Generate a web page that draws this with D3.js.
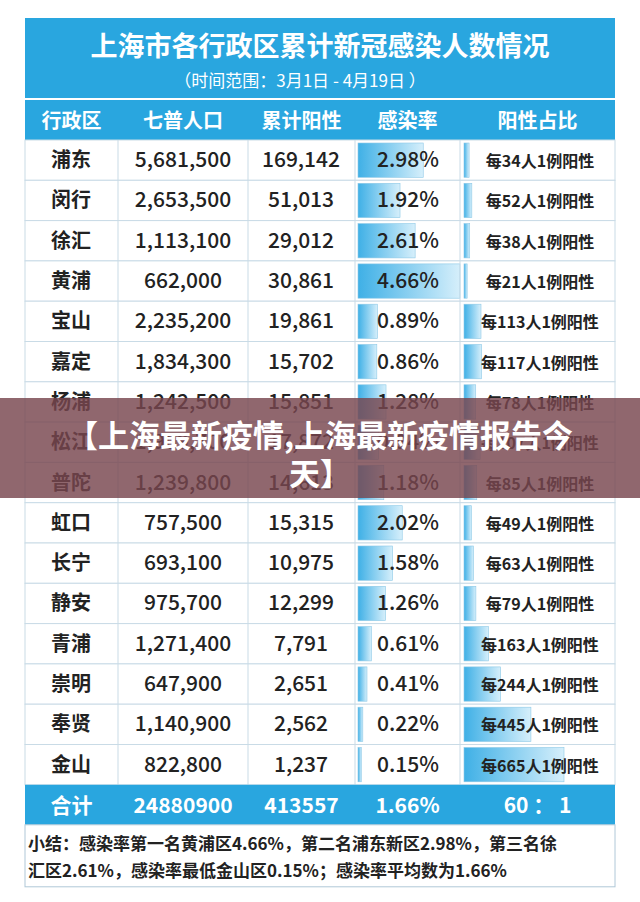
<!DOCTYPE html>
<html><head><meta charset="utf-8">
<script src="https://cdn.jsdelivr.net/npm/d3@7"></script>
<style>body{margin:0;background:#fff;font-family:"Noto Sans CJK SC","Noto Sans",sans-serif}</style>
</head><body>
<svg id="chart" width="640" height="902"></svg>
<script>
const districts = ["浦东","闵行","徐汇","黄浦","宝山","嘉定","杨浦","松江","普陀","虹口","长宁","静安","青浦","崇明","奉贤","金山"];
const population = ["5,681,500","2,653,500","1,113,100","662,000","2,235,200","1,834,300","1,242,500","1,909,700","1,239,800","757,500","693,100","975,700","1,271,400","647,900","1,140,900","822,800"];
const positives = ["169,142","51,013","29,012","30,861","19,861","15,702","15,851","17,872","14,613","15,315","10,975","12,299","7,791","2,651","2,562","1,237"];
const rates = [2.98,1.92,2.61,4.66,0.89,0.86,1.28,0.94,1.18,2.02,1.58,1.26,0.61,0.41,0.22,0.15];
const perCase = [34,52,38,21,113,117,78,107,85,49,63,79,163,244,445,665];
const headers = ["行政区","七普人口","累计阳性","感染率","阳性占比"];
const totals = ["合计","24880900","413557","1.66%","60 ： 1"];

const svg = d3.select("#chart");
const blue = "#29a6df";
const colEdges = [25,118,248,355,460,615];
const rowTop = 140, rowH = 40.3;
const y = d3.scaleBand().domain(districts).range([rowTop, rowTop + rowH*districts.length]);
const rateX = d3.scaleLinear().domain([0,4.66]).range([0,102]);
const ratioX = d3.scaleLinear().domain([0,665]).range([0,100]);

const defs = svg.append("defs");
const g1 = defs.append("linearGradient").attr("id","gr").attr("x1",0).attr("x2",1);
g1.append("stop").attr("offset","0%").attr("stop-color","#3fb0e6");
g1.append("stop").attr("offset","100%").attr("stop-color","#d6effb");

// title block
svg.append("rect").attr("x",25).attr("y",18).attr("width",590).attr("height",80).attr("fill",blue);
svg.append("text").attr("x",320).attr("y",56).attr("text-anchor","middle").attr("fill","#fff")
  .attr("font-size",27).attr("font-weight","bold").text("上海市各行政区累计新冠感染人数情况");
svg.append("text").attr("x",300).attr("y",87).attr("text-anchor","middle").attr("fill","#fff")
  .attr("font-size",17).text("（时间范围：3月1日 -  4月19日 ）");
// header row
svg.append("rect").attr("x",25).attr("y",100).attr("width",590).attr("height",40).attr("fill",blue);
headers.forEach((h,i)=>{
  svg.append("text").attr("x",(colEdges[i]+colEdges[i+1])/2).attr("y",128).attr("text-anchor","middle")
    .attr("fill","#fff").attr("font-size",20).attr("font-weight","bold").text(h);
});

// rows
const rows = svg.selectAll("g.row").data(districts).enter().append("g").attr("class","row")
  .attr("transform", d => `translate(0,${y(d)})`);
rows.append("rect").attr("x",25).attr("width",590).attr("height",rowH).attr("fill","#fff")
  .attr("stroke","#c9dbe6");
rows.append("rect").attr("x",358).attr("y",3).attr("height",rowH-6)
  .attr("width",(d,i)=>rateX(rates[i])).attr("fill","url(#gr)").attr("stroke","#8cc8e6").attr("stroke-width",0.6);
rows.append("rect").attr("x",464).attr("y",3).attr("height",rowH-6)
  .attr("width",(d,i)=>Math.max(3,ratioX(perCase[i]))).attr("fill","url(#gr)").attr("stroke","#8cc8e6").attr("stroke-width",0.6);
const txt = (sel,x,fn,size,anchor="middle") => sel.append("text").attr("x",x).attr("y",rowH/2+7)
  .attr("text-anchor",anchor).attr("font-size",size).attr("fill","#222").text(fn);
txt(rows,71,d=>d,20).attr("font-weight","bold");
txt(rows,183,(d,i)=>population[i],21).attr("font-weight",500);
txt(rows,301,(d,i)=>positives[i],21).attr("font-weight",500);
txt(rows,408,(d,i)=>rates[i].toFixed(2)+"%",21).attr("font-weight",500);
txt(rows,540,(d,i)=>`每${perCase[i]}人1例阳性`,16).attr("font-weight","bold");
colEdges.slice(1,5).forEach(x=>svg.append("line").attr("x1",x).attr("x2",x)
  .attr("y1",rowTop).attr("y2",rowTop+rowH*16).attr("stroke","#c9dbe6"));

// totals
const ty = rowTop + rowH*16;
svg.append("rect").attr("x",25).attr("y",ty).attr("width",590).attr("height",40).attr("fill",blue);
totals.forEach((t,i)=>{
  svg.append("text").attr("x",(colEdges[i]+colEdges[i+1])/2).attr("y",ty+28).attr("text-anchor","middle")
    .attr("fill","#fff").attr("font-size",21).attr("font-weight","bold").text(t);
});
svg.append("rect").attr("x",25).attr("y",ty+40).attr("width",590).attr("height",62).attr("fill","#fff").attr("stroke","#b0c8d8");
svg.append("text").attr("x",28).attr("y",ty+65).attr("font-size",17).attr("fill","#222").attr("font-weight","bold")
  .text("小结：感染率第一名黄浦区4.66%，第二名浦东新区2.98%，第三名徐");
svg.append("text").attr("x",28).attr("y",ty+92).attr("font-size",17).attr("fill","#222").attr("font-weight","bold")
  .text("汇区2.61%，感染率最低金山区0.15%；感染率平均数为1.66%");

// overlay banner
svg.append("rect").attr("x",0).attr("y",398).attr("width",640).attr("height",100).attr("fill","rgba(120,70,78,0.82)");
svg.append("text").attr("x",320).attr("y",447).attr("text-anchor","middle").attr("fill","#fff")
  .attr("font-size",31).attr("font-weight","bold").text("【上海最新疫情,上海最新疫情报告今");
svg.append("text").attr("x",320).attr("y",485).attr("text-anchor","middle").attr("fill","#fff")
  .attr("font-size",31).attr("font-weight","bold").text("天】");
</script>
</body></html>
